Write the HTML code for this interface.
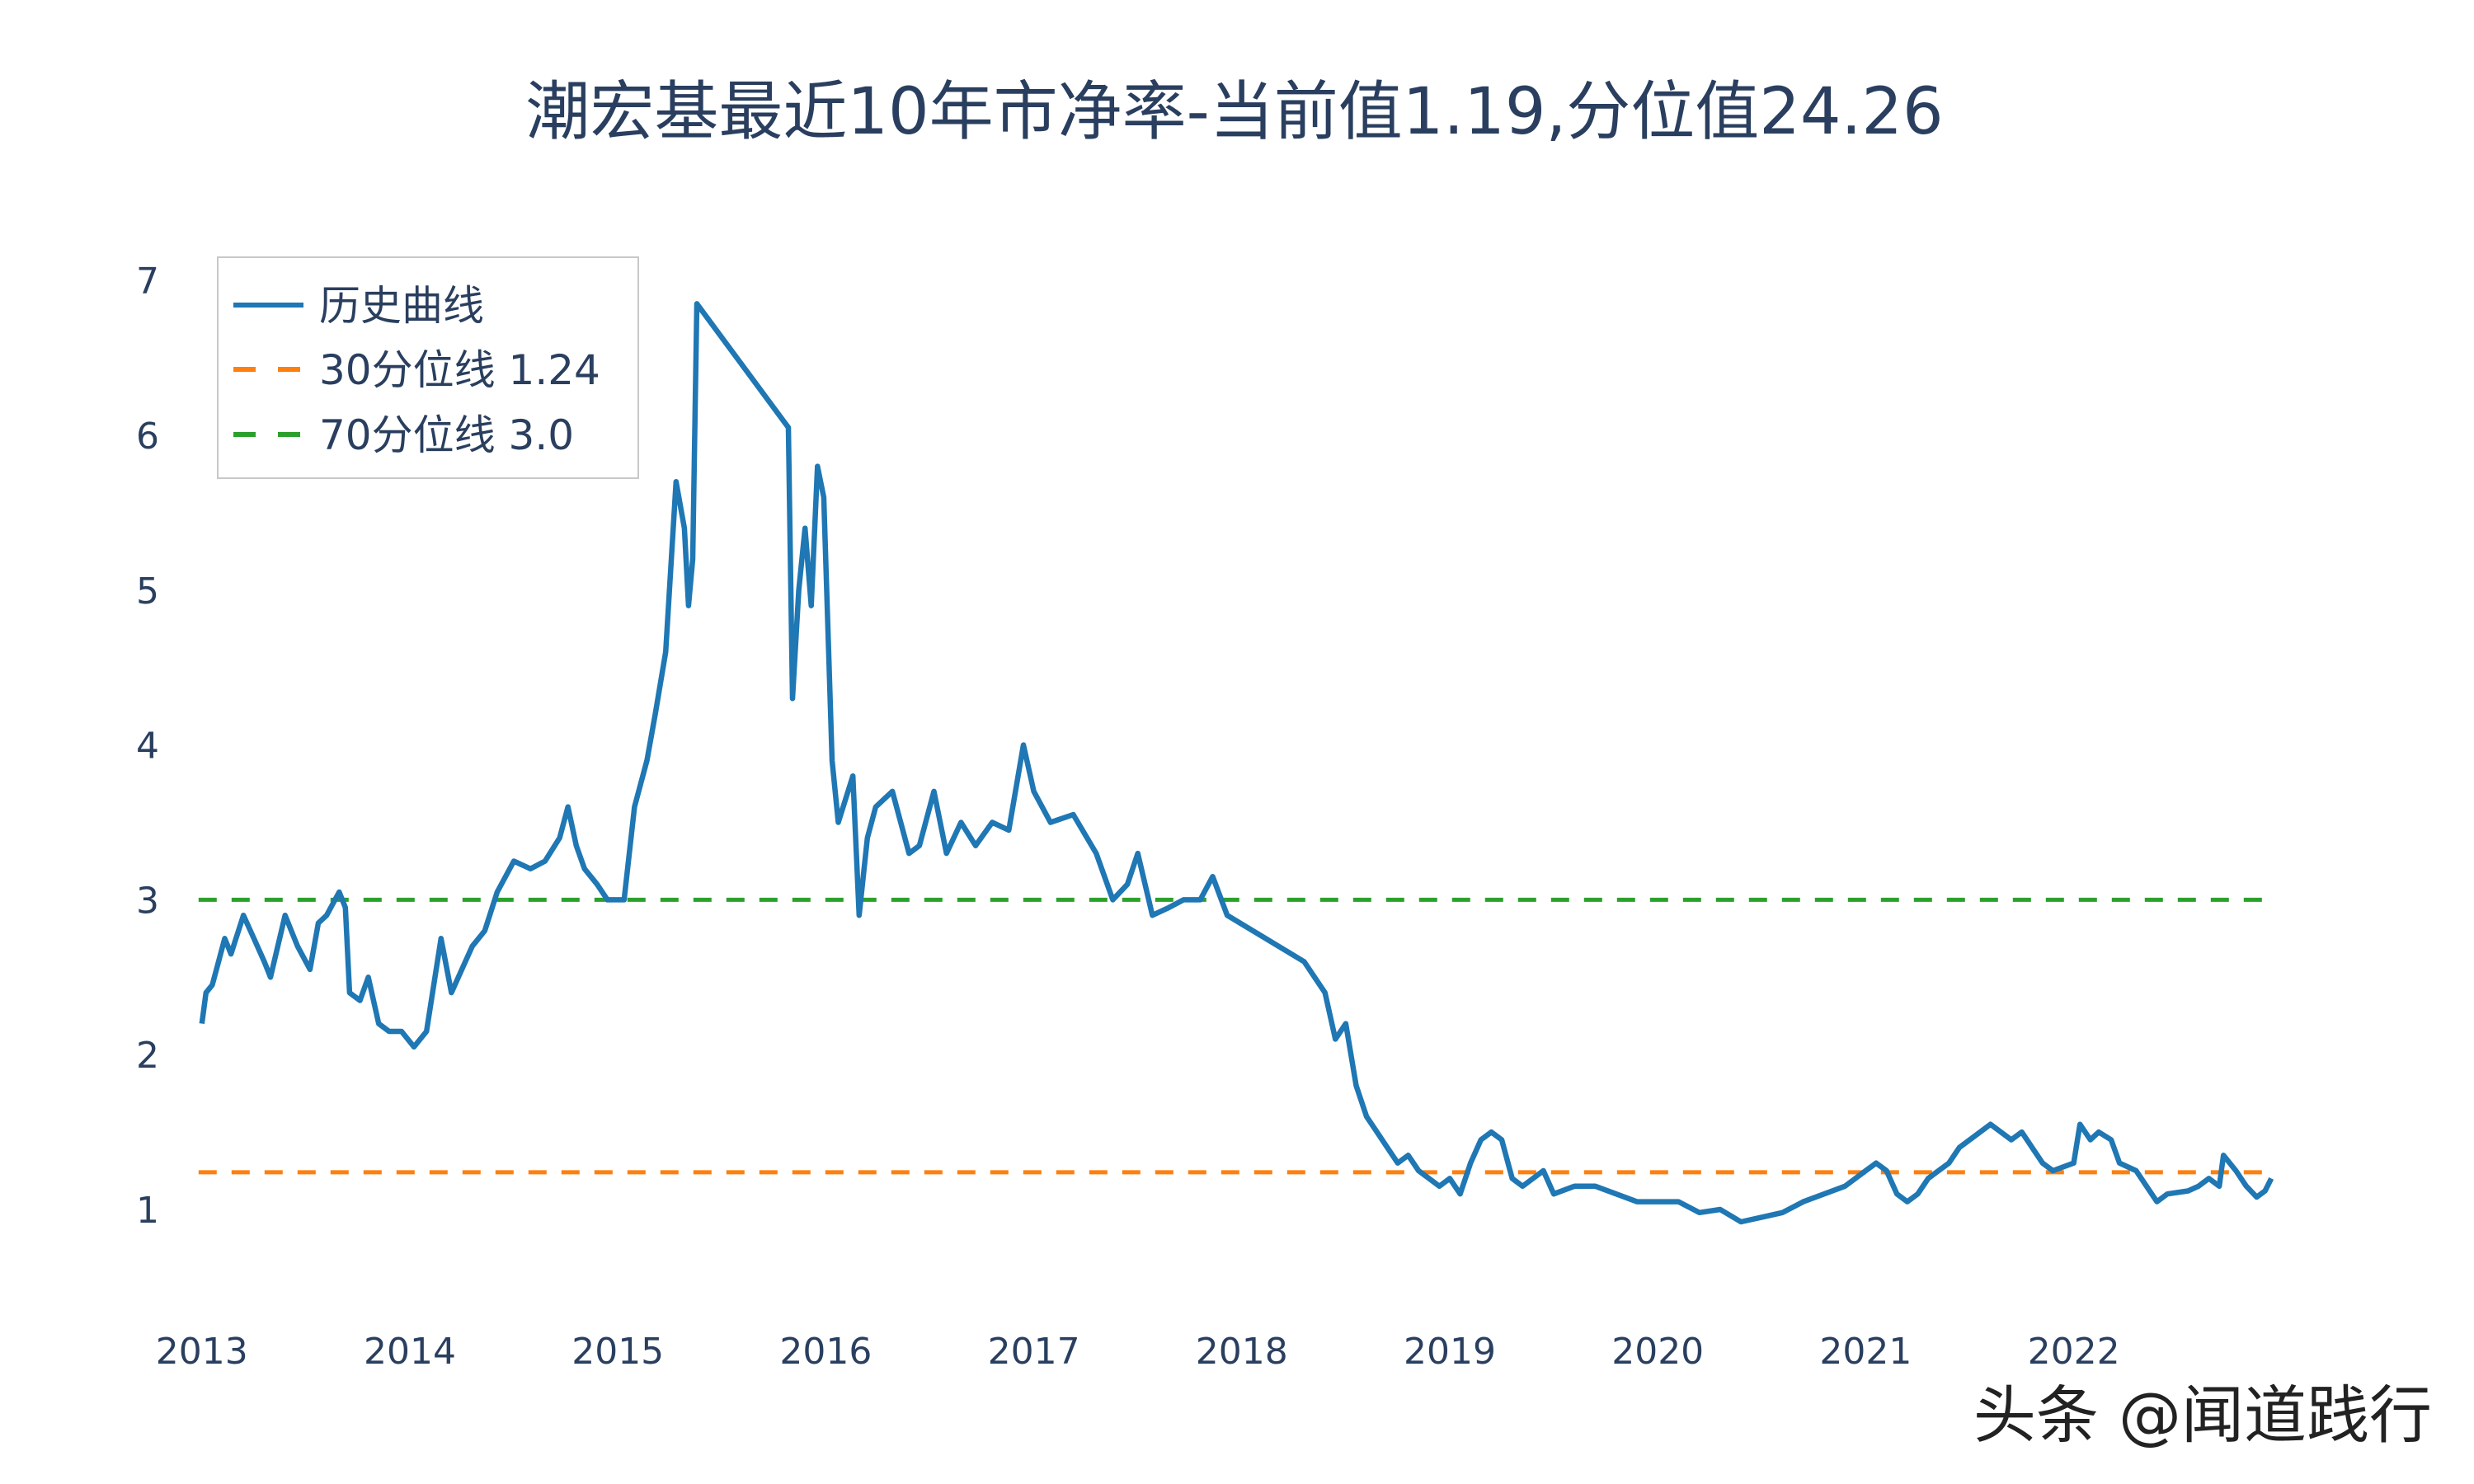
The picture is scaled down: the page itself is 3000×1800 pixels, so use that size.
<!DOCTYPE html>
<html><head><meta charset="utf-8">
<style>
html,body{margin:0;padding:0;background:#fff;}
svg{display:block;font-family:"DejaVu Sans","Noto Sans CJK SC",sans-serif;}
</style></head>
<body>
<svg id="chart" width="3000" height="1800" viewBox="0 0 3000 1800" xmlns="http://www.w3.org/2000/svg">
<rect width="3000" height="1800" fill="#fff"/>
<text x="1497" y="162" text-anchor="middle" font-size="78" fill="#2a3f5f">潮宏基最近10年市净率-当前值1.19,分位值24.26</text>
<g id="yticks"></g><g id="xticks"></g>
<g id="lines"></g>
<g>
<rect x="264" y="312" width="510" height="268" fill="#fff" stroke="#c8c8c8" stroke-width="2"/>
<line x1="283" y1="370" x2="368" y2="370" stroke="#1f77b4" stroke-width="6"/>
<text x="387" y="388" font-size="50" fill="#2a3f5f">历史曲线</text>
<line x1="283" y1="448" x2="364" y2="448" stroke="#ff7f0e" stroke-width="6" stroke-dasharray="27,27"/>
<text x="387" y="466" font-size="50" fill="#2a3f5f">30分位线 1.24</text>
<line x1="283" y1="527" x2="364" y2="527" stroke="#2ca02c" stroke-width="6" stroke-dasharray="27,27"/>
<text x="387" y="545" font-size="50" fill="#2a3f5f">70分位线 3.0</text>
</g>
<text x="2949" y="1743" text-anchor="end" font-size="76" fill="#222">头条 @闻道践行</text>
</svg>
<script>
const dates=[2013.00,2013.02,2013.05,2013.08,2013.11,2013.14,2013.2,2013.25,2013.3,2013.33,2013.4,2013.46,2013.52,2013.56,2013.6,2013.66,2013.69,2013.71,2013.76,2013.8,2013.85,2013.9,2013.96,2014.02,2014.08,2014.15,2014.2,2014.25,2014.3,2014.36,2014.42,2014.5,2014.58,2014.65,2014.72,2014.76,2014.8,2014.84,2014.9,2014.95,2015.03,2015.08,2015.14,2015.18,2015.23,2015.28,2015.32,2015.34,2015.36,2015.38,2015.82,2015.84,2015.87,2015.9,2015.93,2015.96,2015.99,2016.03,2016.06,2016.13,2016.16,2016.2,2016.24,2016.32,2016.4,2016.45,2016.52,2016.58,2016.65,2016.72,2016.8,2016.88,2016.95,2017.0,2017.08,2017.19,2017.3,2017.38,2017.45,2017.5,2017.57,2017.65,2017.72,2017.8,2017.86,2017.93,2018.3,2018.35,2018.4,2018.45,2018.5,2018.55,2018.6,2018.65,2018.7,2018.75,2018.8,2018.85,2018.9,2018.95,2019.0,2019.05,2019.1,2019.15,2019.2,2019.25,2019.3,2019.35,2019.45,2019.5,2019.6,2019.7,2019.8,2019.9,2020.0,2020.1,2020.2,2020.3,2020.4,2020.5,2020.6,2020.7,2020.8,2020.9,2021.0,2021.05,2021.1,2021.15,2021.2,2021.25,2021.3,2021.35,2021.4,2021.45,2021.5,2021.55,2021.6,2021.65,2021.7,2021.75,2021.8,2021.85,2021.9,2022.0,2022.03,2022.08,2022.12,2022.18,2022.22,2022.3,2022.35,2022.4,2022.45,2022.55,2022.6,2022.65,2022.7,2022.72,2022.78,2022.83,2022.88,2022.92,2022.95];
const values=[2.2,2.4,2.45,2.6,2.75,2.65,2.9,2.75,2.6,2.5,2.9,2.7,2.55,2.85,2.9,3.05,2.95,2.4,2.35,2.5,2.2,2.15,2.15,2.05,2.15,2.75,2.4,2.55,2.7,2.8,3.05,3.25,3.2,3.25,3.4,3.6,3.35,3.2,3.1,3.0,3.0,3.6,3.9,4.2,4.6,5.7,5.4,4.9,5.2,6.85,6.05,4.3,5.0,5.4,4.9,5.8,5.6,3.9,3.5,3.8,2.9,3.4,3.6,3.7,3.3,3.35,3.7,3.3,3.5,3.35,3.5,3.45,4.0,3.7,3.5,3.55,3.3,3.0,3.1,3.3,2.9,2.95,3.0,3.0,3.15,2.9,2.6,2.5,2.4,2.1,2.2,1.8,1.6,1.5,1.4,1.3,1.35,1.25,1.2,1.15,1.2,1.1,1.3,1.45,1.5,1.45,1.2,1.15,1.25,1.1,1.15,1.15,1.1,1.05,1.05,1.05,0.98,1.0,0.92,0.95,0.98,1.05,1.1,1.15,1.25,1.3,1.25,1.1,1.05,1.1,1.2,1.25,1.3,1.4,1.45,1.5,1.55,1.5,1.45,1.5,1.4,1.3,1.25,1.3,1.55,1.45,1.5,1.45,1.3,1.25,1.15,1.05,1.1,1.12,1.15,1.2,1.15,1.35,1.25,1.15,1.08,1.12,1.2,1.19];
const yTicks=[1,2,3,4,5,6,7];
const xTicks=[2013,2014,2015,2016,2017,2018,2019,2020,2021,2022];
const p30=[1.24];
const p70=[3.0];
const NS="http://www.w3.org/2000/svg";
function sx(t){return 244.8+(t-2013)*252.2;}
function sy(v){return 1467-(v-1)*187.8;}
function mk(tag,attrs,parent){const e=document.createElementNS(NS,tag);for(const k in attrs)e.setAttribute(k,attrs[k]);parent.appendChild(e);return e;}
const yg=document.getElementById('yticks');
yTicks.forEach(v=>{const t=mk('text',{x:193,y:sy(v)+16,'text-anchor':'end','font-size':44,fill:'#2a3f5f'},yg);


t.textContent=v;});
const xg=document.getElementById('xticks');
xTicks.forEach(v=>{const t=mk('text',{x:sx(v),y:1654,'text-anchor':'middle','font-size':44,fill:'#2a3f5f'},xg);


t.textContent=v;});
const lg=document.getElementById('lines');
const x0=sx(dates[0])-4,x1=sx(dates[dates.length-1]);
const l30=mk('line',{x1:x0,x2:x1,y1:sy(p30[0]),y2:sy(p30[0]),stroke:'#ff7f0e','stroke-width':5,'stroke-dasharray':'22,18'},lg);


const l70=mk('line',{x1:x0,x2:x1,y1:sy(p70[0]),y2:sy(p70[0]),stroke:'#2ca02c','stroke-width':5,'stroke-dasharray':'22,18'},lg);


const pts=dates.map((d,i)=>sx(d).toFixed(1)+','+sy(values[i]).toFixed(1)).join(' ');
const pl=mk('polyline',{points:pts,fill:'none',stroke:'#1f77b4','stroke-width':6.5,'stroke-linejoin':'round'},lg);


</script>
</body></html>
